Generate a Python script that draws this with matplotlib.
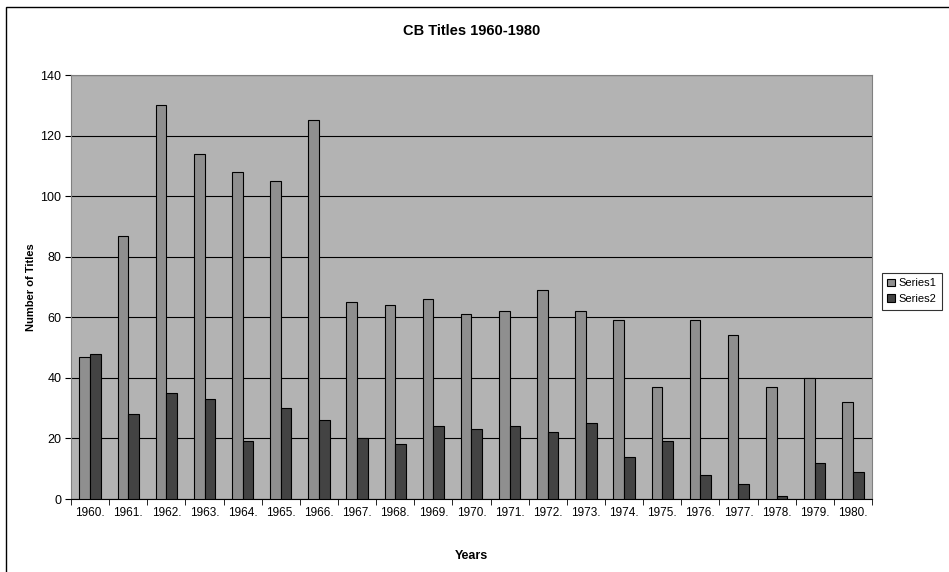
import numpy as np
import matplotlib
matplotlib.use("Agg")
import matplotlib.pyplot as plt
from matplotlib.patches import Rectangle

plt.rcParams['font.family'] = ['Liberation Sans', 'DejaVu Sans']

years = [str(y) + '.' for y in range(1960, 1981)]
series1 = [47, 87, 130, 114, 108, 105, 125, 65, 64, 66, 61, 62, 69, 62, 59, 37, 59, 54, 37, 40, 32]
series2 = [48, 28, 35, 33, 19, 30, 26, 20, 18, 24, 23, 24, 22, 25, 14, 19, 8, 5, 1, 12, 9]

fig = plt.figure(figsize=(9.49, 5.72), dpi=100)
fig.patch.set_facecolor('white')

# outer chart frame (only left/top visible in the original)
fig.patches.append(Rectangle((6 / 949, -0.05), 1.0, 1 - 7 / 572 + 0.05,
                             transform=fig.transFigure, fill=False,
                             edgecolor='black', linewidth=1.0))

ax = fig.add_axes([71 / 949, 1 - 499 / 572, (872 - 71) / 949, (499 - 75) / 572])
ax.set_facecolor('#b3b3b3')

x = np.arange(len(years))
w = 0.28
ax.bar(x - w / 2, series1, w, color='#8f8f8f', edgecolor='black', linewidth=0.8,
       label='Series1', zorder=3)
ax.bar(x + w / 2, series2, w, color='#434343', edgecolor='black', linewidth=0.8,
       label='Series2', zorder=3)

ax.set_xlim(-0.5, len(years) - 0.5)
ax.set_ylim(0, 140)
ax.set_yticks(range(0, 141, 20))
ax.yaxis.grid(True, color='black', linewidth=0.8, zorder=1)

ax.set_xticks(x)
ax.set_xticklabels(years, fontsize=8.5)
ax.set_xticks(np.arange(-0.5, len(years), 1), minor=True)
ax.tick_params(axis='x', which='major', length=0, pad=6)
ax.tick_params(axis='x', which='minor', length=4, direction='out', color='black')
ax.tick_params(axis='y', length=4, direction='out', labelsize=9, pad=3)

for s in ['top', 'right']:
    ax.spines[s].set_color('#808080')
ax.spines['left'].set_color('#808080')
ax.spines['bottom'].set_color('black')

ax.set_title('CB Titles 1960-1980', fontsize=10.5, fontweight='bold', pad=29)
ax.set_xlabel('Years', fontsize=9, fontweight='bold', labelpad=22)
ax.set_ylabel('Number of Titles', fontsize=8, fontweight='bold', labelpad=3)

leg = ax.legend(loc='center left', bbox_to_anchor=(1.008, 0.49), fontsize=8,
                frameon=True, fancybox=False, edgecolor='black',
                handlelength=0.7, handleheight=0.7, handletextpad=0.3,
                borderpad=0.5, labelspacing=0.5, borderaxespad=0.3)
leg.get_frame().set_linewidth(0.8)

fig.savefig('out.png', dpi=100)
